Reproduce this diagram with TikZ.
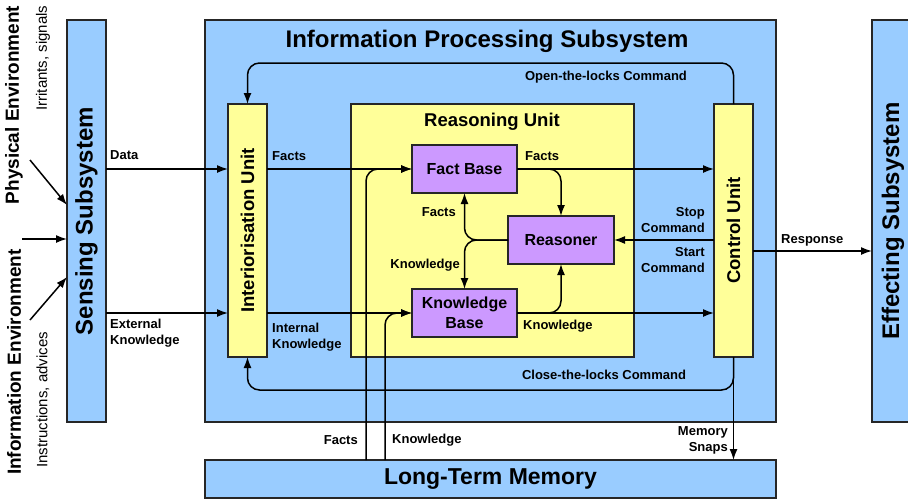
\documentclass[tikz,border=0pt]{standalone}
\usepackage{fontspec}
\setmainfont{Liberation Sans}
\usetikzlibrary{arrows.meta}

\definecolor{sysblue}{HTML}{99CCFF}
\definecolor{unityellow}{HTML}{FFFF99}
\definecolor{baseviolet}{HTML}{CC99FF}

\tikzset{
  box/.style={draw=black!85, line width=1.4pt, inner sep=0pt, outer sep=0pt},
  sysbox/.style={box, fill=sysblue},
  unitbox/.style={box, fill=unityellow},
  basebox/.style={box, fill=baseviolet, align=center,
    font=\fontsize{16}{20}\selectfont\bfseries,
    minimum width=105pt, minimum height=48pt},
  bigtxt/.style={font=\fontsize{24}{28}\selectfont\bfseries, inner sep=0pt},
  unittxt/.style={font=\fontsize{18.5}{22}\selectfont\bfseries, inner sep=0pt},
  envtxt/.style={rotate=90, font=\fontsize{19}{22}\selectfont\bfseries, inner sep=0pt},
  subtxt/.style={rotate=90, font=\fontsize{15}{18}\selectfont, inner sep=0pt},
  lbl/.style={font=\fontsize{13}{16}\selectfont\bfseries, inner sep=0pt},
  arr/.style={line width=1.5pt, -{Latex[length=11pt,width=8pt]}},
}

\begin{document}
\begin{tikzpicture}[x=1pt, y=-1pt]
    \useasboundingbox (0,0) rectangle (908,499);

    % the three subsystems and the memory
    \node [sysbox, minimum width=39pt, minimum height=402pt] (sens) at (86.5,221) {};
    \node [sysbox, minimum width=571pt, minimum height=402pt] (ips) at (490.5,221) {};
    \node [sysbox, minimum width=42pt, minimum height=402pt] (eff) at (893,221) {};
    \node [sysbox, minimum width=571pt, minimum height=38pt,
           font=\fontsize{23}{26}\selectfont\bfseries] (ltm) at (490.5,479) {Long-Term Memory};

    \node [bigtxt, rotate=90] (senstxt) at (sens) {Sensing Subsystem};
    \node [bigtxt, rotate=90] (efftxt) at (eff) {Effecting Subsystem};
    \node [bigtxt] (ipstxt) at (487,41) {Information Processing Subsystem};

    % units
    \node [unitbox, minimum width=39pt, minimum height=253pt] (intu) at (247.5,230.5) {};
    \node [unitbox, minimum width=283pt, minimum height=253pt] (reas) at (492.5,230.5) {};
    \node [unitbox, minimum width=39pt, minimum height=253pt] (ctrl) at (733.5,230.5) {};
    \node [unittxt, rotate=90] (intutxt) at (intu) {Interiorisation Unit};
    \node [unittxt, rotate=90] (ctrltxt) at (ctrl) {Control Unit};
    \node [unittxt] (reastxt) at (492,122) {Reasoning Unit};

    \node [basebox] (fb) at (464.5,169) {Fact Base};
    \node [basebox, minimum width=106pt] (rsn) at (561,240) {Reasoner};
    \node [basebox] (kb) at (464.5,313) {Knowledge\\Base};

    % environment
    \node [envtxt] (physenv) at (14,105) {Physical Environment};
    \node [envtxt] (infoenv) at (14,362) {Information Environment};
    \node [subtxt] (irr) at (43,58) {Irritants, signals};
    \node [subtxt] (instr) at (43,400) {Instructions, advices};

    \coordinate (physin) at (30,160);
    \coordinate (midin) at (22,239);
    \coordinate (infoin) at (30,320);
    \draw [arr] (physin) -- (sens.west |- 0,205);
    \draw [arr] (midin) -- (sens.west |- midin);
    \draw [arr] (infoin) -- (sens.west |- 0,277);

    % data flow
    \draw [arr] (sens.east |- fb.west) -- (intu.west |- fb.west);
    \draw [arr] (sens.east |- kb.west) -- (intu.west |- kb.west);
    \draw [arr] (intu.east |- fb.west) -- (fb.west);
    \draw [arr] (intu.east |- kb.west) -- (kb.west);
    \draw [arr] (fb.east) -- (ctrl.west |- fb.east);
    \draw [arr] (kb.east) -- (ctrl.west |- kb.east);
    \draw [arr, rounded corners=12pt] (fb.east) -| (rsn.north);
    \draw [arr, rounded corners=12pt] (kb.east) -| (rsn.south);
    \draw [arr, rounded corners=12pt] (rsn.west) -| (fb.south);
    \draw [arr, rounded corners=12pt] (rsn.west) -| (kb.north);
    \draw [arr] (ctrl.west |- rsn.east) -- (rsn.east);

    \coordinate (resp) at (ctrl.east |- 0,251);
    \draw [arr] (resp) -- (eff.west |- resp);

    % locks
    \draw [arr, rounded corners=12pt] (ctrl.north) -- ++(0,-41) -| (intu.north);
    \draw [arr, rounded corners=12pt] (ctrl.south) -- ++(0,33) -| (intu.south);
    \draw [arr] (ctrl.south) -- (ctrl.south |- ltm.north);

    % long-term memory
    \draw [arr, rounded corners=12pt] (ltm.north -| 366,0) |- (fb.west);
    \draw [arr, rounded corners=12pt] (ltm.north -| 385,0) |- (kb.west);

    % labels
    \node [lbl, anchor=west] (ldata) at (110,155) {Data};
    \node [lbl, anchor=west, align=left] (lext) at (110,333) {External\\Knowledge};
    \node [lbl, anchor=west] (lfacts1) at (272,156) {Facts};
    \node [lbl, anchor=west, align=left] (lint) at (272,337) {Internal\\Knowledge};
    \node [lbl, anchor=west] (lfacts2) at (525,156) {Facts};
    \node [lbl, anchor=west] (lknow1) at (523,326) {Knowledge};
    \node [lbl, anchor=east] (lfacts3) at (456,212) {Facts};
    \node [lbl, anchor=east] (lknow2) at (460,265) {Knowledge};
    \node [lbl, anchor=east, align=right] (lstop) at (705,220) {Stop\\Command};
    \node [lbl, anchor=east, align=right] (lstart) at (705,260) {Start\\Command};
    \node [lbl, anchor=west] (lresp) at (781,240) {Response};
    \node [lbl] (lopen) at (606,77) {Open-the-locks Command};
    \node [lbl] (lclose) at (604,375) {Close-the-locks Command};
    \node [lbl, anchor=east, align=right] (lsnap) at (728,440) {Memory\\Snaps};
    \node [lbl, anchor=east] (lfacts4) at (358,440) {Facts};
    \node [lbl, anchor=west] (lknow3) at (392,440) {Knowledge};
\end{tikzpicture}
\end{document}
